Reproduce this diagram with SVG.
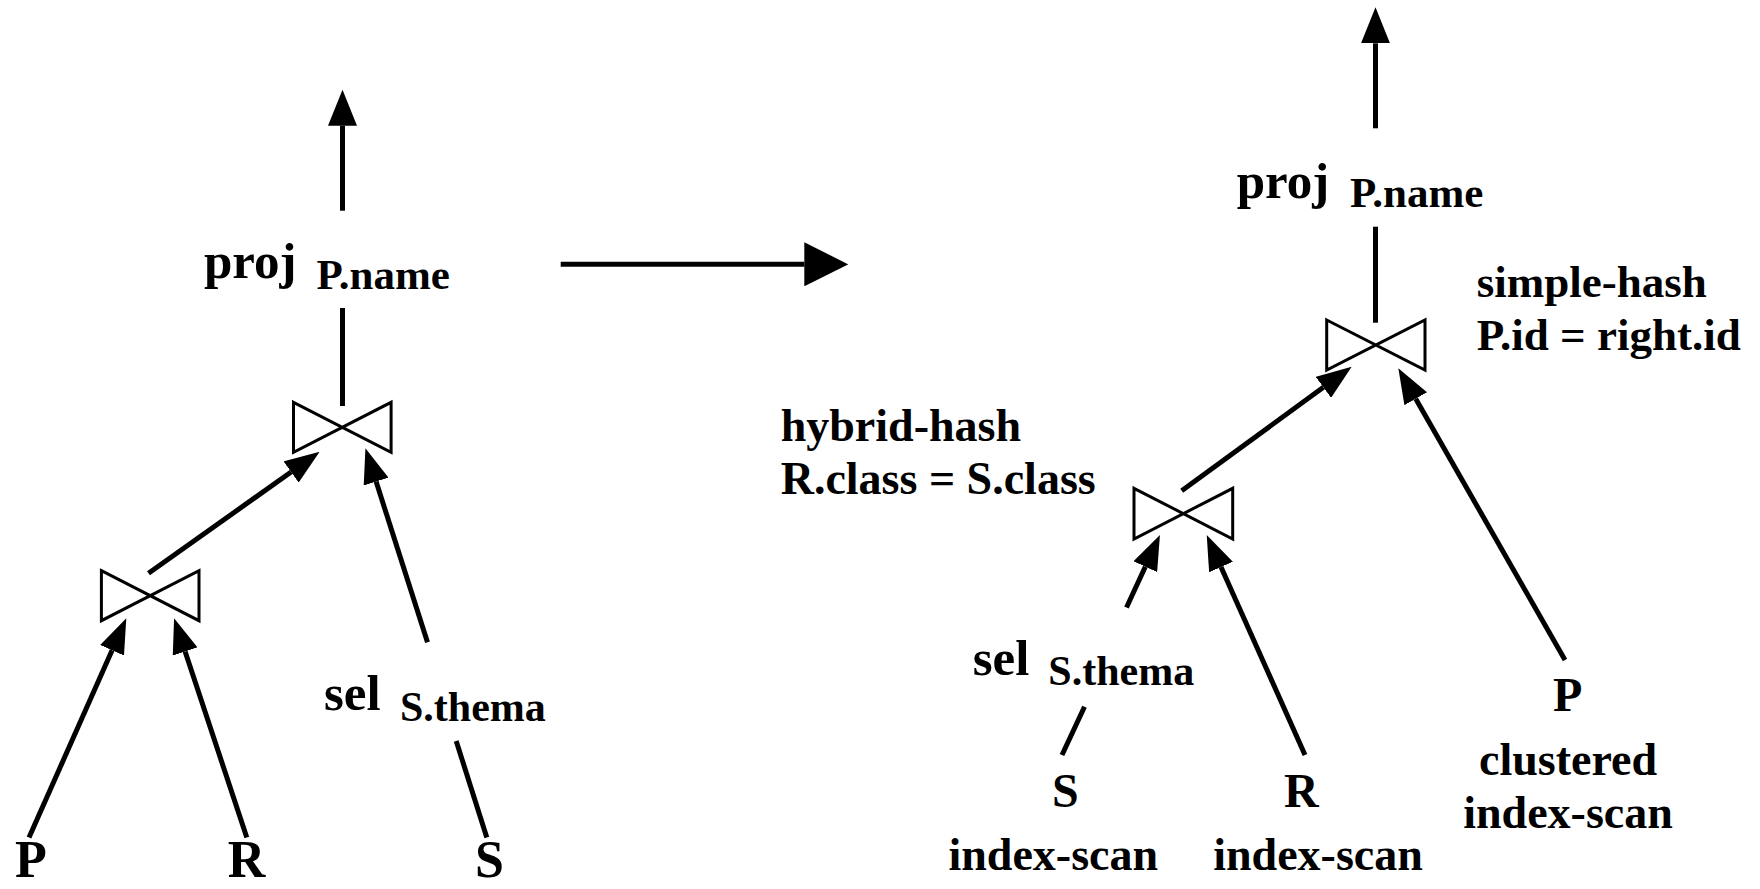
<svg xmlns="http://www.w3.org/2000/svg" width="1760" height="889" viewBox="0 0 1760 889">
  <defs>
    <style>
      .edge { stroke: #000; stroke-width: 5; fill: none; stroke-linecap: butt; }
      .join { stroke: #000; stroke-width: 3; fill: #fff; stroke-linejoin: miter; }
      text { font-family: "Liberation Serif", "Times New Roman", serif; font-weight: bold; fill: #000; }
      .op { font-size: 51px; }
      .sub { font-size: 42px; }
      .subn { font-size: 43px; }
      .rel { font-size: 52px; }
      .relr { font-size: 48px; }
      .note { font-size: 46px; }
      .cond { font-size: 45px; }
    </style>
    <!-- arrowheads: base sits at the line end, tip points along the line -->
    <marker id="head" markerUnits="userSpaceOnUse" viewBox="0 0 35 26" refX="0" refY="13" markerWidth="35" markerHeight="26" orient="auto">
      <path d="M0,0 L35,13 L0,26 Z" fill="#000"/>
    </marker>
    <marker id="head-v" markerUnits="userSpaceOnUse" viewBox="0 0 36 29" refX="0" refY="14.5" markerWidth="36" markerHeight="29" orient="auto">
      <path d="M0,0 L36,14.5 L0,29 Z" fill="#000"/>
    </marker>
    <marker id="head-big" markerUnits="userSpaceOnUse" viewBox="0 0 44 44" refX="0" refY="22" markerWidth="44" markerHeight="44" orient="auto">
      <path d="M0,0 L44,22 L0,44 Z" fill="#000"/>
    </marker>
  </defs>

  <rect width="1760" height="889" fill="#fff"/>

  <!-- connectors -->
  <g id="connectors">
    <!-- initial plan -->
    <line class="edge" x1="342.5" y1="210.7" x2="342.5" y2="125.7" marker-end="url(#head-v)"/>
    <line class="edge" x1="342.5" y1="308" x2="342.5" y2="406"/>
    <line class="edge" x1="148.5" y1="573.3" x2="291.1" y2="472" marker-end="url(#head)"/>
    <line class="edge" x1="427.5" y1="642.3" x2="376.1" y2="481.6" marker-end="url(#head)"/>
    <line class="edge" x1="29" y1="837.5" x2="112.1" y2="650.3" marker-end="url(#head)"/>
    <line class="edge" x1="246.8" y1="837.5" x2="185.1" y2="651.5" marker-end="url(#head)"/>
    <line class="edge" x1="456.2" y1="741" x2="486.8" y2="837.5"/>

    <!-- transformation arrow -->
    <line class="edge" x1="560.7" y1="264.3" x2="804.3" y2="264.3" marker-end="url(#head-big)"/>

    <!-- physical plan -->
    <line class="edge" x1="1375.5" y1="128.3" x2="1375.5" y2="43.3" marker-end="url(#head-v)"/>
    <line class="edge" x1="1375.5" y1="226.7" x2="1375.5" y2="322.7"/>
    <line class="edge" x1="1181.7" y1="490.7" x2="1323.4" y2="387.3" marker-end="url(#head)"/>
    <line class="edge" x1="1565" y1="660" x2="1415.7" y2="398.7" marker-end="url(#head)"/>
    <line class="edge" x1="1126.5" y1="607.5" x2="1145.3" y2="566.7" marker-end="url(#head)"/>
    <line class="edge" x1="1305" y1="755" x2="1221" y2="567" marker-end="url(#head)"/>
    <line class="edge" x1="1084.5" y1="706.7" x2="1062" y2="755"/>
  </g>

  <!-- initial plan nodes -->
  <g id="l-proj">
    <text class="op" x="204" y="278">proj</text>
    <text class="subn" x="316.5" y="289.3">P.name</text>
  </g>
  <g id="l-join-top">
    <path class="join" d="M293.5,402.3 L391.1,452.3 L391.1,402.3 L293.5,452.3 Z"/>
  </g>
  <g id="l-join-bottom">
    <path class="join" d="M101.4,570.7 L199,620.7 L199,570.7 L101.4,620.7 Z"/>
  </g>
  <g id="l-sel">
    <text class="op" x="324" y="710">sel</text>
    <text class="sub" x="400" y="720.7">S.thema</text>
  </g>
  <g id="l-P"><text class="rel" x="15" y="877">P</text></g>
  <g id="l-R"><text class="rel" x="227.7" y="877">R</text></g>
  <g id="l-S"><text class="rel" x="475" y="877">S</text></g>

  <!-- physical plan nodes -->
  <g id="r-proj">
    <text class="op" x="1236.7" y="198.3">proj</text>
    <text class="subn" x="1350" y="206.7">P.name</text>
  </g>
  <g id="r-join-top">
    <path class="join" d="M1326.7,320 L1425,370 L1425,320 L1326.7,370 Z"/>
    <text class="cond" x="1476.7" y="297">simple-hash</text>
    <text class="cond" x="1476.7" y="350">P.id = right.id</text>
  </g>
  <g id="r-join-bottom">
    <path class="join" d="M1134,488.3 L1232.7,539 L1232.7,488.3 L1134,539 Z"/>
    <text class="note" x="780.7" y="441">hybrid-hash</text>
    <text class="note" x="780.7" y="494">R.class = S.class</text>
  </g>
  <g id="r-sel">
    <text class="op" x="972.7" y="675">sel</text>
    <text class="sub" x="1048.3" y="685">S.thema</text>
  </g>
  <g id="r-S">
    <text class="relr" x="1052" y="806.7">S</text>
    <text class="note" x="1053.3" y="870" text-anchor="middle">index-scan</text>
  </g>
  <g id="r-R">
    <text class="relr" x="1284" y="806.7">R</text>
    <text class="note" x="1318" y="870" text-anchor="middle">index-scan</text>
  </g>
  <g id="r-P">
    <text class="relr" x="1553" y="710.7">P</text>
    <text class="note" x="1568" y="775" text-anchor="middle">clustered</text>
    <text class="note" x="1568" y="828.3" text-anchor="middle">index-scan</text>
  </g>
</svg>
